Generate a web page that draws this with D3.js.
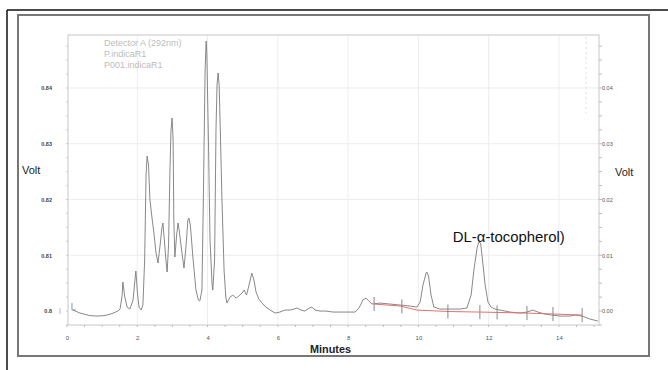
<!DOCTYPE html>
<html>
<head>
<meta charset="utf-8">
<script src="https://cdn.jsdelivr.net/npm/d3@7/dist/d3.min.js"></script>
<style>
  html, body { margin: 0; padding: 0; background: #fff; }
  svg { display: block; font-family: Arial, "Liberation Sans", sans-serif; }
</style>
</head>
<body>
<svg id="chart" width="668" height="370"></svg>
<script>
// Chromatogram trace: retention time (min) and detector response (V)
const times = [0.17,0.37,0.65,0.85,1.08,1.28,1.45,1.51,1.57,1.59,1.64,1.71,1.79,1.88,1.92,1.96,2.01,2.05,2.11,
  2.16,2.21,2.25,2.28,2.32,2.36,2.42,2.48,2.53,2.59,2.65,2.70,2.73,2.77,2.82,2.85,2.89,2.93,2.96,2.99,3.02,3.04,
  3.07,3.12,3.16,3.20,3.26,3.33,3.39,3.44,3.47,3.51,3.59,3.67,3.74,3.78,3.84,3.88,3.93,3.96,3.98,4.03,4.07,4.13,
  4.15,4.20,4.24,4.27,4.30,4.33,4.37,4.41,4.47,4.52,4.55,4.64,4.72,4.81,4.89,4.98,5.04,5.11,5.18,5.26,5.32,5.38,
  5.46,5.55,5.66,5.78,5.92,6.06,6.20,6.35,6.46,6.55,6.66,6.77,6.89,6.97,7.06,7.20,7.37,7.57,7.91,8.20,8.31,8.42,
  8.51,8.59,8.68,8.91,9.19,9.48,9.76,9.96,10.05,10.13,10.22,10.24,10.29,10.36,10.44,10.61,10.90,11.18,11.38,11.50,
  11.58,11.67,11.72,11.77,11.81,11.90,11.98,12.07,12.18,12.32,12.61,12.89,13.09,13.26,13.40,13.60,13.80,14.03,
  14.31,14.46,14.66,14.88,15.11];
const volts = [0.80018,0.79964,0.79919,0.79910,0.79919,0.79955,0.80000,0.80036,0.80287,0.80520,0.80269,0.80072,
  0.80036,0.80197,0.80466,0.80717,0.80287,0.80072,0.80018,
  0.80108,0.80915,0.82439,0.82780,0.82619,0.81991,0.81668,0.81363,0.81058,0.80861,0.81184,0.81489,0.81578,0.81274,
  0.80879,0.80700,0.81184,0.82529,0.83247,0.83462,0.83067,0.81632,
  0.80969,0.81363,0.81578,0.81417,0.81094,0.80771,0.81184,0.81632,0.81668,0.81543,0.80915,0.80377,0.80197,0.80179,
  0.80377,0.81991,0.84323,0.84843,0.84592,0.82888,0.81274,0.80466,
  0.80377,0.80915,0.83247,0.84054,0.84269,0.84054,0.83067,0.81991,0.80735,0.80251,0.80143,0.80251,0.80287,0.80233,
  0.80269,0.80323,0.80377,0.80287,0.80466,0.80682,0.80556,0.80341,
  0.80215,0.80143,0.80072,0.80018,0.79964,0.79982,0.80018,0.80018,0.80036,0.80054,0.80018,0.80000,0.80054,0.80072,
  0.80018,0.80000,0.80000,0.79982,0.79982,0.79982,0.80054,0.80197,
  0.80233,0.80179,0.80126,0.80143,0.80126,0.80108,0.80090,0.80072,0.80161,0.80466,0.80682,0.80700,0.80628,0.80287,
  0.80072,0.80036,0.80036,0.80036,0.80054,0.80287,
  0.80735,0.81130,0.81238,0.81220,0.81004,0.80466,0.80161,0.80072,0.80036,0.80018,0.79982,0.79964,0.79982,0.80018,
  0.79982,0.79946,0.79928,0.79910,
  0.79910,0.79928,0.79910,0.79857,0.79821];

// Integration baseline (red) and peak-event marks
const baseTimes = [8.74, 9.48, 9.96, 10.90, 11.75, 13.09, 14.66];
const baseVolts = [0.80126, 0.80090, 0.80018, 0.79991, 0.79982, 0.79964, 0.79928];
const eventTimes = [8.74, 9.53, 10.84, 11.75, 12.24, 13.09, 13.83, 14.66];

// Axis ticks and labels
const xTicks = [0, 2, 4, 6, 8, 10, 12, 14];
const yTicks = [0.80, 0.81, 0.82, 0.83, 0.84];
const yTickLabels = ["0.8", "0.81", "0.82", "0.83", "0.84"];
const yRightTicks = [0.00, 0.01, 0.02, 0.03, 0.04];
const yRightTickLabels = ["0.00", "0.01", "0.02", "0.03", "0.04"];
const legendLines = ["Detector A (292nm)", "P.indicaR1", "P001.indicaR1"];
const peakLabel = "DL-\u03B1-tocopherol)";
const peakTime = 11.72;

const svg = d3.select("#chart");
const L = 67, R = 599, T = 35, B = 325;

const x = d3.scaleLinear().domain([0, 15.14]).range([L, R]);
const y = d3.scaleLinear().domain([0.7975, 0.8495]).range([B, T]);
const yR = d3.scaleLinear().domain([-0.0025, 0.0495]).range([B, T]);

// Page frames
svg.append("line").attr("x1", 7).attr("x2", 668).attr("y1", 10).attr("y2", 10)
  .attr("stroke", "#111").attr("stroke-width", 1.5);
svg.append("line").attr("x1", 7).attr("x2", 7).attr("y1", 10).attr("y2", 370)
  .attr("stroke", "#111").attr("stroke-width", 1.5);
svg.append("rect").attr("x", 18).attr("y", 15).attr("width", 631).attr("height", 341)
  .attr("fill", "none").attr("stroke", "#777").attr("stroke-width", 2);

// Grid
const grid = svg.append("g").attr("stroke", "#ededed").attr("stroke-width", 1);
grid.selectAll("line.v").data(xTicks.filter(d => d > 0)).join("line")
  .attr("x1", d => x(d)).attr("x2", d => x(d)).attr("y1", T).attr("y2", B);
grid.selectAll("line.h").data(yTicks.filter(d => d > 0.8)).join("line")
  .attr("x1", L).attr("x2", R).attr("y1", d => y(d)).attr("y2", d => y(d));

// faint dotted marker column near the end of the run
svg.append("line").attr("x1", x(14.77)).attr("x2", x(14.77)).attr("y1", T + 2).attr("y2", y(0.8355))
  .attr("stroke", "#ddd").attr("stroke-dasharray", "2,3");

// Plot frame
svg.append("rect").attr("x", L + 1).attr("y", T).attr("width", R - L - 1).attr("height", B - T)
  .attr("fill", "none").attr("stroke", "#c8c8c8").attr("stroke-width", 1);

// Minor ticks
const minorX = d3.range(0, 15.01, 0.5);
svg.append("g").selectAll("line").data(minorX).join("line")
  .attr("x1", d => x(d)).attr("x2", d => x(d)).attr("y1", B).attr("y2", B + 2)
  .attr("stroke", "#bbb");
const minorY = d3.range(0.7975, 0.8495, 0.0025);
svg.append("g").selectAll("line").data(minorY).join("line")
  .attr("x1", L - 1).attr("x2", L + 1).attr("y1", d => y(d)).attr("y2", d => y(d))
  .attr("stroke", "#ccc");
svg.append("g").selectAll("line").data(minorY).join("line")
  .attr("x1", R).attr("x2", R + 3).attr("y1", d => y(d)).attr("y2", d => y(d))
  .attr("stroke", "#bbb");

// Axes (labels only; lines are the frame)
const axL = svg.append("g").attr("transform", `translate(${L},0)`).style("color", "#444")
  .call(d3.axisLeft(y).tickValues(yTicks).tickSize(0).tickPadding(15)
    .tickFormat((d, i) => yTickLabels[i]));
axL.select(".domain").remove();
axL.selectAll("text").attr("font-size", 5.5).attr("font-weight", "bold").attr("fill", "#444")
  .attr("font-family", "Arial, sans-serif");

const axR = svg.append("g").attr("transform", `translate(${R},0)`).style("color", "#555")
  .call(d3.axisRight(yR).tickValues(yRightTicks).tickSize(0).tickPadding(3)
    .tickFormat((d, i) => yRightTickLabels[i]));
axR.select(".domain").remove();
axR.selectAll("text").attr("font-size", 5.5).attr("fill", "#555")
  .attr("font-family", "Arial, sans-serif");

const axB = svg.append("g").attr("transform", `translate(0,${B})`).style("color", "#555")
  .call(d3.axisBottom(x).tickValues(xTicks).tickSize(0).tickPadding(11));
axB.select(".domain").remove();
axB.selectAll("text").attr("font-size", 6).attr("fill", "#555")
  .attr("font-family", "Arial, sans-serif");

// Axis titles
svg.append("text").attr("x", 22).attr("y", 174).attr("font-size", 11).attr("fill", "#222").text("Volt");
svg.append("text").attr("x", 615).attr("y", 176).attr("font-size", 11).attr("fill", "#222").text("Volt");
svg.append("text").attr("x", 310).attr("y", 353).attr("font-size", 11).attr("fill", "#222")
  .attr("font-weight", "bold").attr("textLength", 41).attr("lengthAdjust", "spacingAndGlyphs").text("Minutes");

// Detector legend
svg.append("g").selectAll("text").data(legendLines).join("text")
  .attr("x", 104).attr("y", (d, i) => 46 + i * 11)
  .attr("font-size", 9).attr("fill", "#bcbcbc").text(d => d);

// Trace
const pts = times.map((t, i) => [t, volts[i]]);
svg.append("path").datum(pts)
  .attr("fill", "none").attr("stroke", "#7a7a7a").attr("stroke-width", 0.9)
  .attr("stroke-linejoin", "round")
  .attr("d", d3.line().x(d => x(d[0])).y(d => y(d[1])));

// Injection marker
svg.append("path")
  .attr("d", `M${x(times[0]) - 1},${y(volts[0]) - 7} V${y(volts[0])} H${x(times[0]) + 3}`)
  .attr("fill", "none").attr("stroke", "#7d8ed8").attr("stroke-width", 1);
svg.append("line").attr("x1", L - 7).attr("x2", L - 7)
  .attr("y1", y(0.8) - 3).attr("y2", y(0.8) + 3).attr("stroke", "#bbb");

// Baseline
const basePts = baseTimes.map((t, i) => [t, baseVolts[i]]);
svg.append("path").datum(basePts)
  .attr("fill", "none").attr("stroke", "#e87070").attr("stroke-width", 1)
  .attr("d", d3.line().x(d => x(d[0])).y(d => y(d[1])));

const baseAt = d3.scaleLinear().domain(baseTimes).range(baseVolts).clamp(true);
svg.append("g").selectAll("line").data(eventTimes).join("line")
  .attr("x1", d => x(d)).attr("x2", d => x(d))
  .attr("y1", d => y(baseAt(d)) - 7).attr("y2", d => y(baseAt(d)) + 7)
  .attr("stroke", "#888").attr("stroke-width", 1);

// Peak annotation
svg.append("text")
  .attr("x", x(peakTime) + 30).attr("y", 242)
  .attr("font-size", 14).attr("fill", "#111")
  .attr("text-anchor", "middle")
  .attr("textLength", 112).attr("lengthAdjust", "spacingAndGlyphs")
  .text(peakLabel);
</script>
</body>
</html>
